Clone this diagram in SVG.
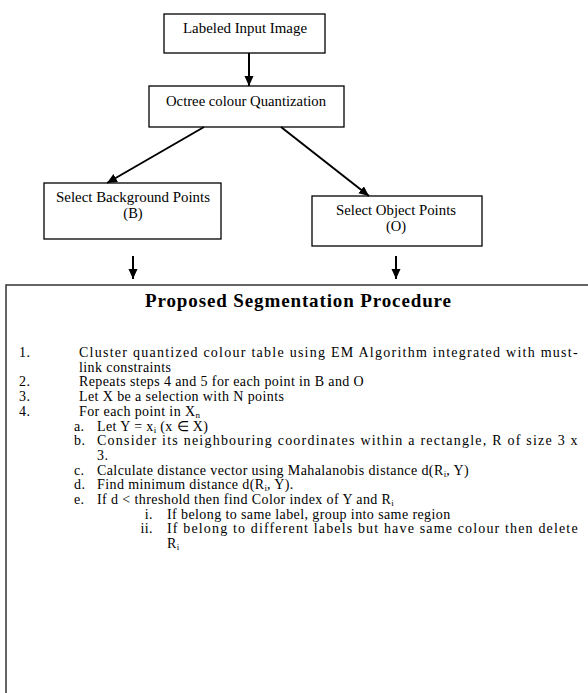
<svg xmlns="http://www.w3.org/2000/svg" width="588" height="693" viewBox="0 0 588 693">
<style>
  .box { fill: #ffffff; stroke: #000000; stroke-width: 1.3; }
  .big { fill: #ffffff; stroke: #333333; stroke-width: 1.5; }
  .lbl { font-family: "Liberation Serif", "Times New Roman", serif; font-size: 14px; letter-spacing: 0.4px; fill: #000000; }
  .sub { font-size: 9px; letter-spacing: 0; }
  .nl { font-family: "Liberation Serif", "Times New Roman", serif; font-size: 14.5px; fill: #000000; text-anchor: middle; }
  .end { text-anchor: end; }
  .title { font-family: "Liberation Serif", "Times New Roman", serif; font-size: 19px; font-weight: bold; fill: #000000; }
  .conn { stroke: #000000; stroke-width: 2; fill: none; marker-end: url(#arr); }
</style>
<defs>
  <marker id="arr" markerUnits="userSpaceOnUse" markerWidth="11" markerHeight="10" refX="10" refY="4.5" orient="auto">
    <path d="M0,0 L10,4.5 L0,9 z" fill="#000000"/>
  </marker>
</defs>
<rect x="0" y="0" width="588" height="693" fill="#ffffff"/>

<g id="node-labeled-input">
  <rect class="box" x="164" y="14" width="161" height="39"/>
  <text class="nl" x="245" y="33" textLength="124" lengthAdjust="spacingAndGlyphs">Labeled Input Image</text>
</g>
<g id="node-octree">
  <rect class="box" x="149" y="86" width="195" height="41"/>
  <text class="nl" x="246" y="106" textLength="160" lengthAdjust="spacingAndGlyphs">Octree colour Quantization</text>
</g>
<g id="node-background">
  <rect class="box" x="44" y="183" width="177" height="56"/>
  <text class="nl" x="133" y="202" textLength="154" lengthAdjust="spacingAndGlyphs">Select Background Points</text>
  <text class="nl" x="133" y="218">(B)</text>
</g>
<g id="node-object">
  <rect class="box" x="312" y="196" width="170" height="50"/>
  <text class="nl" x="396" y="215" textLength="120" lengthAdjust="spacingAndGlyphs">Select Object Points</text>
  <text class="nl" x="396" y="231">(O)</text>
</g>

<g id="connectors">
  <line class="conn" x1="249" y1="53" x2="249" y2="86"/>
  <line class="conn" x1="204" y1="127" x2="107" y2="183"/>
  <line class="conn" x1="281" y1="127" x2="369" y2="196"/>
  <line class="conn" x1="133" y1="256" x2="133" y2="279"/>
  <line class="conn" x1="396" y1="256" x2="396" y2="279"/>
</g>

<g id="node-procedure">
  <rect class="big" x="6" y="285" width="600" height="420"/>
  <text class="title" x="145" y="307" textLength="306" lengthAdjust="spacing">Proposed Segmentation Procedure</text>

  <text class="lbl" x="19" y="357">1.</text>
  <text class="lbl" x="79" y="357" textLength="499" lengthAdjust="spacing">Cluster quantized colour table using EM Algorithm integrated with must-</text>
  <text class="lbl" x="79" y="371.7">link constraints</text>

  <text class="lbl" x="19" y="386.4">2.</text>
  <text class="lbl" x="79" y="386.4">Repeats steps 4 and 5 for each point in B and O</text>

  <text class="lbl" x="19" y="401.1">3.</text>
  <text class="lbl" x="79" y="401.1">Let X be a selection with N points</text>

  <text class="lbl" x="19" y="415.8">4.</text>
  <text class="lbl" x="79" y="415.8">For each point in X<tspan class="sub" dy="2">n</tspan></text>

  <text class="lbl" x="74" y="430.5">a.</text>
  <text class="lbl" x="97" y="430.5">Let Y = x<tspan class="sub" dy="2">i</tspan><tspan dy="-2"> (x ∈ X)</tspan></text>

  <text class="lbl" x="74" y="445.2">b.</text>
  <text class="lbl" x="97" y="445.2" textLength="481" lengthAdjust="spacing">Consider its neighbouring coordinates within a rectangle, R of size 3 x</text>
  <text class="lbl" x="97" y="459.9">3.</text>

  <text class="lbl" x="74" y="474.6">c.</text>
  <text class="lbl" x="97" y="474.6">Calculate distance vector using Mahalanobis distance d(R<tspan class="sub" dy="2">i</tspan><tspan dy="-2">, Y)</tspan></text>

  <text class="lbl" x="74" y="489.3">d.</text>
  <text class="lbl" x="97" y="489.3">Find minimum distance d(R<tspan class="sub" dy="2">i</tspan><tspan dy="-2">, Y).</tspan></text>

  <text class="lbl" x="74" y="504">e.</text>
  <text class="lbl" x="97" y="504">If d &lt; threshold then find Color index of Y and R<tspan class="sub" dy="2">i</tspan></text>

  <text class="lbl end" x="153" y="518.7">i.</text>
  <text class="lbl" x="167" y="518.7">If belong to same label, group into same region</text>

  <text class="lbl end" x="153" y="533.4">ii.</text>
  <text class="lbl" x="167" y="533.4" textLength="411" lengthAdjust="spacing">If belong to different labels but have same colour then delete</text>
  <text class="lbl" x="167" y="548.1">R<tspan class="sub" dy="2">i</tspan></text>
</g>
</svg>
